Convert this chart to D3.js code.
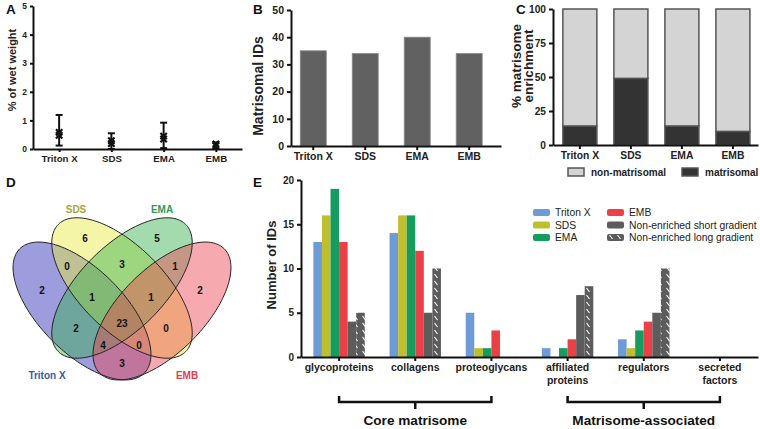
<!DOCTYPE html>
<html>
<head>
<meta charset="utf-8">
<script src="https://cdn.jsdelivr.net/npm/d3@7"></script>
<style>
  body { margin: 0; background: #fff; }
  svg { font-family: "Liberation Sans", Arial, Helvetica, sans-serif; }
  .axis path, .axis line { stroke: #111; stroke-width: 2; }
  .axis text { fill: #222; font-weight: bold; }
</style>
</head>
<body>
<svg id="fig" width="760" height="429"></svg>
<script>
// ---- data ----
const methods = ["Triton X", "SDS", "EMA", "EMB"];

// A: % of wet weight (two replicate points + range per method)
const wetWeightPoints = [[0.58, 0.48], [0.29, 0.19], [0.45, 0.35], [0.18, 0.12]];
const wetWeightLow = [0.12, 0.0, 0.03, 0.0];
const wetWeightHigh = [1.19, 0.55, 0.92, 0.23];
const wetWeightTicks = [0, 1, 2, 3, 4, 5];

// B: matrisomal IDs
const matrisomalIDs = [35, 34, 40, 34];
const idTicks = [0, 10, 20, 30, 40, 50];

// C: % matrisome enrichment
const matrisomalPct = [14, 49, 14, 10];
const pctTicks = [0, 25, 50, 75, 100];
const enrichmentKeys = ["non-matrisomal", "matrisomal"];

// D: venn counts
const vennSets = ["Triton X", "SDS", "EMA", "EMB"];
const vennRegions = ["A", "B", "C", "D", "AB", "BC", "CD", "ABC", "BCD", "ABCD", "AC", "BD", "ACD", "ABD", "AD"];
const vennCounts = [2, 6, 5, 2, 0, 3, 1, 1, 1, 23, 2, 0, 4, 0, 3];

// E: number of IDs per matrisome category
const categories = ["glycoproteins", "collagens", "proteoglycans", "affiliated proteins", "regulators", "secreted factors"];
const seriesNames = ["Triton X", "SDS", "EMA", "EMB", "Non-enriched short gradient", "Non-enriched long gradient"];
const tritonIDs = [13, 14, 5, 1, 2, 0];
const sdsIDs = [16, 16, 1, 0, 1, 0];
const emaIDs = [19, 16, 1, 1, 3, 0];
const embIDs = [13, 12, 3, 2, 4, 0];
const shortGradIDs = [4, 5, 0, 7, 5, 0];
const longGradIDs = [5, 10, 0, 8, 10, 0];
const countTicks = [0, 5, 10, 15, 20];
const groupNames = ["Core matrisome", "Matrisome-associated"];
const groupStart = ["glycoproteins", "affiliated proteins"];
const groupEnd = ["proteoglycans", "secreted factors"];

const svg = d3.select("#fig");

function panelLabel(t, x, y) {
  svg.append("text").attr("x", x).attr("y", y)
    .attr("font-size", 13.5).attr("font-weight", "bold").attr("fill", "#111").text(t);
}
function yTitle(lines, x, y, size) {
  const t = svg.append("text")
    .attr("transform", `translate(${x},${y}) rotate(-90)`)
    .attr("text-anchor", "middle").attr("font-size", size)
    .attr("font-weight", "bold").attr("fill", "#222");
  lines.forEach((l, i) => t.append("tspan").attr("x", 0).attr("dy", i ? "0.92em" : 0).text(l));
}

// ---------------- Panel A ----------------
panelLabel("A", 6, 14);
const xA = d3.scalePoint().domain(methods).range([33, 242]).padding(0.5);
const yA = d3.scaleLinear().domain([0, 5]).range([149, 6]);

svg.append("g").attr("class", "axis")
  .attr("transform", "translate(33,0)")
  .call(d3.axisLeft(yA).tickValues(wetWeightTicks).tickFormat(d3.format("d")).tickSize(3).tickSizeOuter(0))
  .call(g => g.selectAll("text").attr("font-size", 8.5));
svg.append("g").attr("class", "axis")
  .attr("transform", "translate(0,149)")
  .call(d3.axisBottom(xA).tickSize(3).tickSizeOuter(0))
  .call(g => g.selectAll("text").attr("font-size", 9.7));
yTitle(["% of wet weight"], 16, 70, 11);

const gA = svg.append("g");
methods.forEach((m, i) => {
  const x = xA(m);
  gA.append("line").attr("x1", x).attr("x2", x)
    .attr("y1", yA(wetWeightLow[i])).attr("y2", yA(wetWeightHigh[i]))
    .attr("stroke", "#111").attr("stroke-width", 2);
  [wetWeightLow[i], wetWeightHigh[i]].forEach(v => {
    gA.append("line").attr("x1", x - 3.5).attr("x2", x + 3.5)
      .attr("y1", yA(v)).attr("y2", yA(v))
      .attr("stroke", "#111").attr("stroke-width", 2);
  });
  wetWeightPoints[i].forEach(v => {
    gA.append("path")
      .attr("d", d3.symbol(d3.symbolTimes, 28)())
      .attr("transform", `translate(${x},${yA(v)})`)
      .attr("fill", "none").attr("stroke", "#111").attr("stroke-width", 2.2);
  });
});

// ---------------- Panel B ----------------
panelLabel("B", 253, 14);
const xB = d3.scaleBand().domain(methods).range([291, 501])
  .paddingInner(0.5).paddingOuter(0.27).align(0.33);
const yB = d3.scaleLinear().domain([0, 50]).range([146, 10]);

svg.append("g").selectAll("rect").data(matrisomalIDs).join("rect")
  .attr("x", (d, i) => xB(methods[i]))
  .attr("y", d => yB(d))
  .attr("width", xB.bandwidth())
  .attr("height", d => yB(0) - yB(d))
  .attr("fill", "#616161").attr("stroke", "#8a8a8a").attr("stroke-width", 0.8);

svg.append("g").attr("class", "axis")
  .attr("transform", "translate(291,0)")
  .call(d3.axisLeft(yB).tickValues(idTicks).tickSize(4).tickSizeOuter(0))
  .call(g => g.selectAll("text").attr("font-size", 10.5));
svg.append("g").attr("class", "axis")
  .attr("transform", "translate(0,146)")
  .call(d3.axisBottom(xB).tickSize(4).tickSizeOuter(0))
  .call(g => g.selectAll("text").attr("font-size", 10.5));
yTitle(["Matrisomal IDs"], 263, 86, 14);

// ---------------- Panel C ----------------
panelLabel("C", 516, 14);
const xC = d3.scaleBand().domain(methods).range([553, 758])
  .paddingInner(1 / 3).paddingOuter(0.176).align(0.55);
const yC = d3.scaleLinear().domain([0, 100]).range([145, 9]);

const stackRows = methods.map((m, i) => ({
  method: m,
  "matrisomal": matrisomalPct[i],
  "non-matrisomal": 100 - matrisomalPct[i]
}));
const stacked = d3.stack().keys(["matrisomal", "non-matrisomal"])(stackRows);
const cColor = { "non-matrisomal": "#d4d4d4", "matrisomal": "#333333" };

svg.append("g").selectAll("g").data(stacked).join("g")
  .attr("fill", d => cColor[d.key])
  .selectAll("rect").data(d => d).join("rect")
  .attr("x", d => xC(d.data.method))
  .attr("y", d => yC(d[1]))
  .attr("width", xC.bandwidth())
  .attr("height", d => yC(d[0]) - yC(d[1]))
  .attr("stroke", "#555").attr("stroke-width", 1.5);

svg.append("g").attr("class", "axis")
  .attr("transform", "translate(553,0)")
  .call(d3.axisLeft(yC).tickValues(pctTicks).tickSize(4).tickSizeOuter(0))
  .call(g => g.selectAll("text").attr("font-size", 10.2));
svg.append("g").attr("class", "axis")
  .attr("transform", "translate(0,145)")
  .call(d3.axisBottom(xC).tickSize(4).tickSizeOuter(0))
  .call(g => g.selectAll("text").attr("font-size", 10.3));
yTitle(["% matrisome", "enrichment"], 521, 66, 13.5);

const legC = svg.append("g").attr("transform", "translate(568,168)");
enrichmentKeys.forEach((k, i) => {
  const g = legC.append("g").attr("transform", `translate(${i * 114},0)`);
  g.append("rect").attr("width", 16).attr("height", 8)
    .attr("fill", cColor[k]).attr("stroke", "#555").attr("stroke-width", 1.5);
  g.append("text").attr("x", 23).attr("y", 7.5)
    .attr("font-size", 10).attr("font-weight", "bold").attr("fill", "#222").text(k);
});

// ---------------- Panel D (venn) ----------------
panelLabel("D", 6, 187);
const vx = d3.scaleLinear().domain([-1, 1]).range([22, 222]);
const vy = d3.scaleLinear().domain([-1, 1]).range([188, 388]);
const vennShapes = [
  { cx: -0.40, cy: 0.23, a: 0.88, b: 0.42, rot: 45, fill: "#2a2ab8", text: "#3a5aa8", lx: -0.75, ly: 0.87 },
  { cx: 0, cy: 0, a: 0.90, b: 0.42, rot: 45, fill: "#eaea40", text: "#a5a540", lx: -0.46, ly: -0.79 },
  { cx: 0, cy: 0, a: 0.90, b: 0.42, rot: 135, fill: "#36b050", text: "#2f9a5a", lx: 0.40, ly: -0.79 },
  { cx: 0.40, cy: 0.23, a: 0.88, b: 0.42, rot: 135, fill: "#ec4650", text: "#e0404a", lx: 0.65, ly: 0.87 }
];
const regionPos = {
  A: [-0.80, 0.02], B: [-0.37, -0.50], C: [0.35, -0.50], D: [0.78, 0.02],
  AB: [-0.55, -0.22], BC: [0, -0.24], CD: [0.53, -0.22],
  ABC: [-0.30, 0.09], BCD: [0.29, 0.09], ABCD: [0, 0.35],
  AC: [-0.46, 0.40], BD: [0.44, 0.40], ACD: [-0.19, 0.57], ABD: [0.17, 0.57], AD: [0, 0.75]
};
const ellipseLine = d3.line().x(p => vx(p[0])).y(p => vy(p[1])).curve(d3.curveLinearClosed);
function ellipsePts(e) {
  const r = e.rot * Math.PI / 180;
  return d3.range(0, 2 * Math.PI, Math.PI / 90).map(t => {
    const u = e.a * Math.cos(t), v = e.b * Math.sin(t);
    return [e.cx + u * Math.cos(r) - v * Math.sin(r), e.cy + u * Math.sin(r) + v * Math.cos(r)];
  });
}
const gD = svg.append("g");
gD.selectAll("path.fill").data(vennShapes).join("path")
  .attr("class", "fill")
  .attr("d", d => ellipseLine(ellipsePts(d)))
  .attr("fill", d => d.fill).attr("fill-opacity", 0.46);
gD.selectAll("path.edge").data(vennShapes).join("path")
  .attr("class", "edge")
  .attr("d", d => ellipseLine(ellipsePts(d)))
  .attr("fill", "none").attr("stroke", "#222").attr("stroke-width", 1);
gD.selectAll("text.count").data(vennRegions).join("text")
  .attr("class", "count")
  .attr("x", r => vx(regionPos[r][0]))
  .attr("y", r => vy(regionPos[r][1]))
  .attr("dy", "0.35em").attr("text-anchor", "middle")
  .attr("font-size", 10).attr("font-weight", "bold").attr("fill", "#111")
  .text((r, i) => vennCounts[i]);
gD.selectAll("text.set").data(vennShapes).join("text")
  .attr("class", "set")
  .attr("x", d => vx(d.lx)).attr("y", d => vy(d.ly))
  .attr("dy", "0.35em").attr("text-anchor", "middle")
  .attr("font-size", 10).attr("font-weight", "bold")
  .attr("fill", d => d.text)
  .text((d, i) => vennSets[i]);

// ---------------- Panel E ----------------
panelLabel("E", 253, 187);
const seriesValues = [tritonIDs, sdsIDs, emaIDs, embIDs, shortGradIDs, longGradIDs];
const eColors = ["#6c9bd6", "#bfbf2e", "#169c5f", "#eb4146", "#5c5c5c", "url(#hatch)"];

const defs = svg.append("defs");
const pat = defs.append("pattern").attr("id", "hatch")
  .attr("patternUnits", "userSpaceOnUse").attr("width", 8).attr("height", 7);
pat.append("rect").attr("width", 8).attr("height", 7).attr("fill", "#5c5c5c");
pat.append("line").attr("x1", 2.5).attr("y1", 1).attr("x2", 5.5).attr("y2", 5)
  .attr("stroke", "#fff").attr("stroke-width", 1.1);

const x0 = d3.scaleBand().domain(categories).range([301, 758]);
const x1 = d3.scaleBand().domain(seriesNames).range([-25.7, 25.7]);
const yE = d3.scaleLinear().domain([0, 20]).range([357, 180]);

const barData = [];
categories.forEach((c, ci) => seriesNames.forEach((s, si) => {
  barData.push({ cat: c, s: s, si: si, v: seriesValues[si][ci] });
}));
svg.append("g").selectAll("rect").data(barData.filter(d => d.v > 0)).join("rect")
  .attr("x", d => x0(d.cat) + x0.bandwidth() / 2 + x1(d.s))
  .attr("y", d => yE(d.v))
  .attr("width", x1.bandwidth())
  .attr("height", d => yE(0) - yE(d.v))
  .attr("fill", d => eColors[d.si]);

svg.append("g").attr("class", "axis")
  .attr("transform", "translate(301,0)")
  .call(d3.axisLeft(yE).tickValues(countTicks).tickSize(4).tickSizeOuter(0))
  .call(g => g.selectAll("text").attr("font-size", 10));
svg.append("g").attr("class", "axis")
  .attr("transform", "translate(0,357)")
  .call(d3.axisBottom(x0).tickSize(4).tickSizeOuter(0))
  .call(g => g.selectAll(".tick text").each(function (d) {
    const t = d3.select(this).text("").attr("font-size", 10.5).attr("font-weight", "normal");
    d.split(" ").forEach((w, i) => t.append("tspan").attr("x", 0).attr("dy", i ? "1.15em" : "0.71em").text(w));
  }));
yTitle(["Number of IDs"], 276, 265, 13);

// legend
const legE = svg.append("g").attr("transform", "translate(533,209)");
seriesNames.forEach((s, i) => {
  const g = legE.append("g").attr("transform", `translate(${Math.floor(i / 3) * 74},${(i % 3) * 12.5})`);
  g.append("rect").attr("width", 17).attr("height", 7).attr("rx", 2).attr("fill", eColors[i]);
  g.append("text").attr("x", 22).attr("y", 7.2).attr("font-size", 10.3).attr("fill", "#222").text(s);
});

// group brackets
groupNames.forEach((name, i) => {
  const xs = x0(groupStart[i]) + x0.bandwidth() / 2;
  const xe = x0(groupEnd[i]) + x0.bandwidth() / 2;
  const xm = (xs + xe) / 2;
  const g = svg.append("g").attr("stroke", "#111").attr("stroke-width", 2.5).attr("fill", "none");
  g.append("path").attr("d", `M${xs},396 V402 H${xe} V396 M${xm},402 V409`);
  svg.append("text").attr("x", xm).attr("y", 425).attr("text-anchor", "middle")
    .attr("font-size", 13.6).attr("font-weight", "bold").attr("fill", "#111").text(name);
});
</script>
</body>
</html>
